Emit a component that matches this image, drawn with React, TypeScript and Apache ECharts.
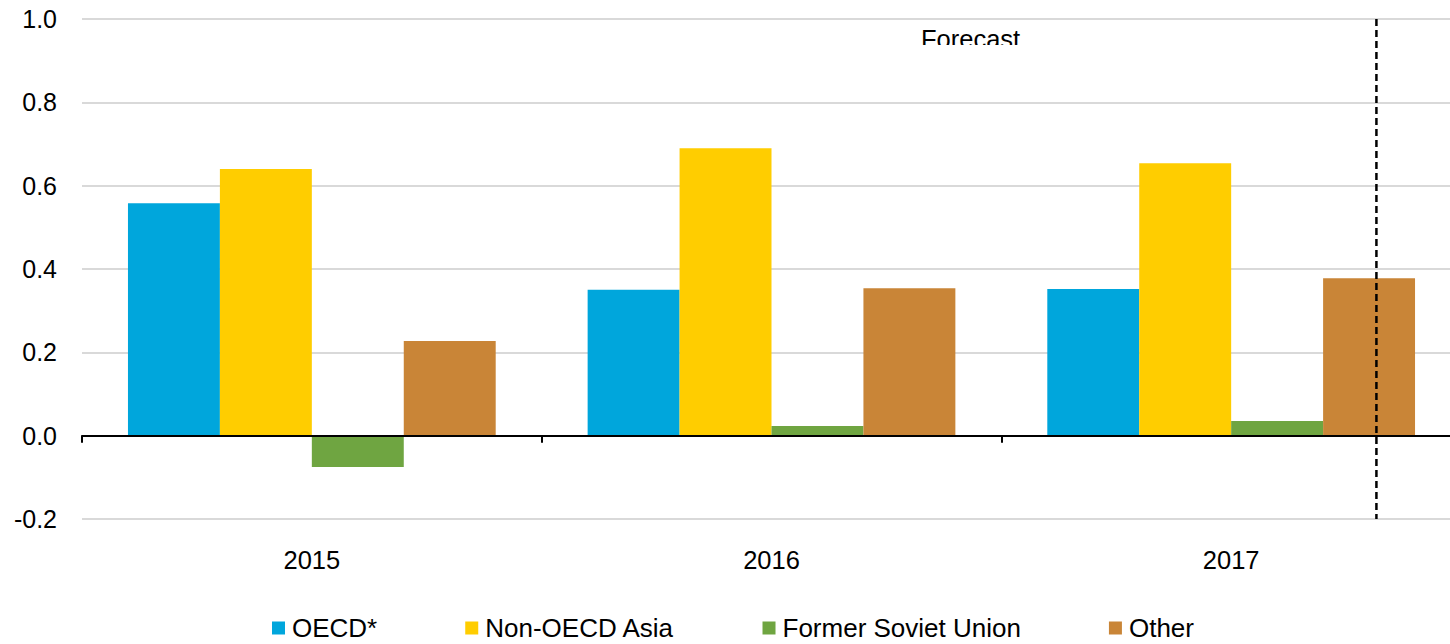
import React, { useEffect, useRef } from "react";
import * as echarts from "echarts";

const categories = ["2015", "2016", "2017"];
const oecd = [0.558, 0.35, 0.352];
const nonOecdAsia = [0.64, 0.69, 0.654];
const formerSovietUnion = [-0.075, 0.023, 0.035];
const other = [0.227, 0.354, 0.378];
const seriesNames = ["OECD*", "Non-OECD Asia", "Former Soviet Union", "Other"];
const seriesColors = ["#00a6dc", "#ffcd00", "#6fa541", "#c98537"];
const forecastStart = 2.816; // position in category units along the x axis
const yMin = -0.2;
const yMax = 1.0;
const yStep = 0.2;

export default function App() {
  const ref = useRef<HTMLDivElement>(null);
  useEffect(() => {
    if (!ref.current) return;
    const chart = echarts.init(ref.current, null, { renderer: "svg" });
    const font = "'Liberation Sans', Arial, sans-serif";
    const values = [oecd, nonOecdAsia, formerSovietUnion, other];
    chart.setOption({
      animation: false,
      backgroundColor: "#fff",
      textStyle: { fontFamily: font },
      grid: { left: 82, right: 0, top: 19, bottom: 125, containLabel: false },
      legend: {
        data: seriesNames,
        left: 272,
        top: 615,
        padding: 0,
        itemWidth: 13,
        itemHeight: 13,
        itemGap: 88,
        icon: "rect",
        textStyle: { fontSize: 26, color: "#000", fontFamily: font, padding: [0, 0, 0, 2] },
      },
      xAxis: [
        {
          type: "category",
          data: categories,
          position: "bottom",
          z: 5,
          axisLine: { show: true, onZero: true, lineStyle: { color: "#000", width: 2 } },
          axisTick: { show: true, length: 7, lineStyle: { color: "#000", width: 2 } },
          axisLabel: { show: false },
          splitLine: { show: false },
        },
        {
          type: "category",
          data: categories,
          position: "bottom",
          axisLine: { show: false, onZero: false },
          axisTick: { show: false },
          axisLabel: { show: true, fontSize: 25.5, color: "#000", margin: 28, fontFamily: font },
          splitLine: { show: false },
        },
        {
          type: "value",
          min: 0,
          max: 3,
          show: false,
        },
      ],
      yAxis: {
        type: "value",
        min: yMin,
        max: yMax,
        interval: yStep,
        axisLine: { show: false },
        axisTick: { show: false },
        axisLabel: {
          fontSize: 25,
          color: "#000",
          margin: 25,
          fontFamily: font,
          formatter: (v: number) => v.toFixed(1),
        },
        splitLine: { show: true, lineStyle: { color: "#d9d9d9", width: 2 } },
      },
      series: [
        ...values.map((d, i) => ({
          name: seriesNames[i],
          type: "bar",
          data: d,
          xAxisIndex: 0,
          barGap: "0%",
          barCategoryGap: "20%",
          itemStyle: { color: seriesColors[i] },
        })),
        {
          name: "forecast-line",
          type: "line",
          xAxisIndex: 2,
          data: [
            [forecastStart, yMax],
            [forecastStart, yMin],
          ],
          symbol: "none",
          silent: true,
          z: 6,
          lineStyle: { color: "#000", width: 2.5, type: [7, 4] },
        },
      ],
      graphic: [
        {
          type: "text",
          left: 921,
          top: 26,
          z: 100,
          style: { text: "Forecast", fontSize: 25.5, fill: "#000", fontFamily: font },
        },
        {
          type: "rect",
          left: 905,
          top: 45,
          z: 101,
          shape: { width: 140, height: 30 },
          style: { fill: "#fff" },
        },
      ],
    });
    return () => chart.dispose();
  }, []);
  return (
    <div style={{ position: "fixed", left: 0, top: 0, width: 1450, height: 644, overflow: "hidden", background: "#fff" }}>
      <div ref={ref} style={{ width: 1461, height: 644 }} />
    </div>
  );
}
